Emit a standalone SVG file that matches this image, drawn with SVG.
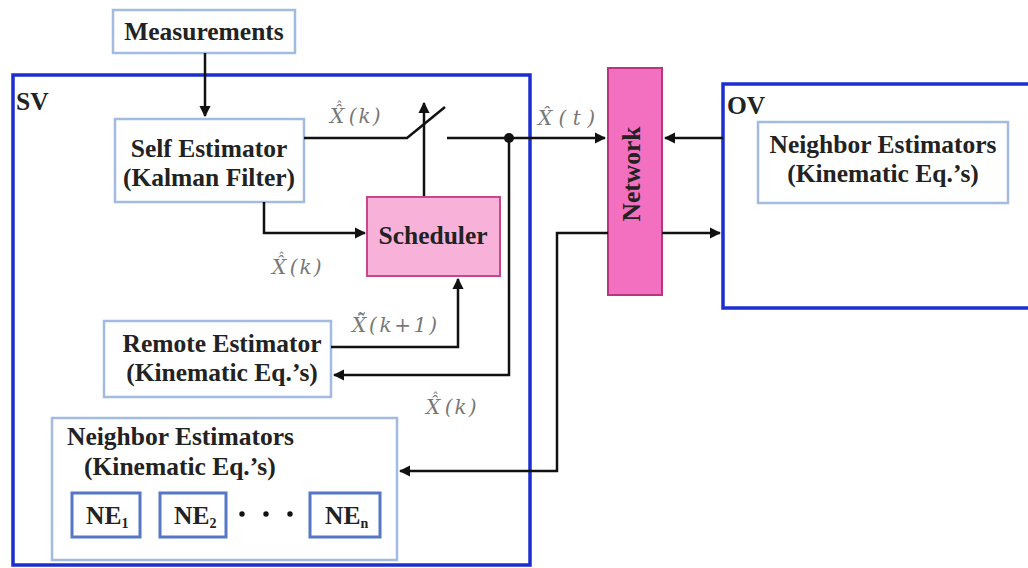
<svg xmlns="http://www.w3.org/2000/svg" width="1028" height="568" viewBox="0 0 1028 568">
<style>
.box{fill:#fff;stroke:#a3bbde;stroke-width:2.5}
.ne{fill:#fff;stroke:#5577c6;stroke-width:3}
.cont{fill:none;stroke:#1b2fd0;stroke-width:3.5}
.t{font-family:"Liberation Serif",serif;font-weight:bold;font-size:25.5px;fill:#222}
.m{font-family:"DejaVu Serif",serif;font-style:italic;font-size:20px;fill:#777}
.c{font-size:13px;font-style:normal}
.ln{fill:none;stroke:#111;stroke-width:2.5}
</style>
<defs>
<marker id="ar" viewBox="0 0 10 10" refX="9" refY="5" markerWidth="4.5" markerHeight="4.5" orient="auto" markerUnits="strokeWidth">
<path d="M0,0 L10,5 L0,10 z" fill="#111"/>
</marker>
</defs>
<rect width="1028" height="568" fill="#fff"/>

<g id="sv">
<rect class="cont" x="13" y="75" width="517" height="490"/>
<text class="t" x="16" y="110" font-size="27">SV</text>
</g>
<g id="ov">
<rect class="cont" x="723" y="84" width="320" height="224"/>
<text class="t" x="727" y="114" font-size="27">OV</text>
</g>

<g id="measurements">
<rect class="box" x="113" y="10" width="182" height="43"/>
<text class="t" x="204" y="40" text-anchor="middle">Measurements</text>
</g>
<g id="self-estimator">
<rect class="box" x="115" y="119" width="189" height="83"/>
<text class="t" x="209" y="157" text-anchor="middle">Self Estimator</text>
<text class="t" x="209" y="186" text-anchor="middle">(Kalman Filter)</text>
</g>
<g id="scheduler">
<rect x="367" y="197" width="133" height="79" style="fill:#f8b2da;stroke:#c8468e;stroke-width:2"/>
<text class="t" x="433" y="244" text-anchor="middle" font-size="27" fill="#4a1030">Scheduler</text>
</g>
<g id="remote-estimator">
<rect class="box" x="104" y="321" width="227" height="76"/>
<text class="t" x="222" y="352" text-anchor="middle">Remote Estimator</text>
<text class="t" x="222" y="381" text-anchor="middle">(Kinematic Eq.’s)</text>
</g>
<g id="neighbor-estimators-sv">
<rect class="box" x="52" y="418" width="345" height="142"/>
<text class="t" x="67" y="445">Neighbor Estimators</text>
<text class="t" x="84" y="475">(Kinematic Eq.’s)</text>
</g>
<g id="ne1">
<rect class="ne" x="72" y="493" width="68" height="44"/>
<text class="t" x="86" y="524" font-size="22">NE<tspan font-size="14" dy="4">1</tspan></text>
</g>
<g id="ne2">
<rect class="ne" x="160" y="493" width="66" height="44"/>
<text class="t" x="174" y="524" font-size="22">NE<tspan font-size="14" dy="4">2</tspan></text>
</g>
<g id="dots">
<circle cx="242" cy="514" r="2.7" fill="#111"/>
<circle cx="266" cy="514" r="2.7" fill="#111"/>
<circle cx="290" cy="514" r="2.7" fill="#111"/>
</g>
<g id="nen">
<rect class="ne" x="310" y="493" width="70" height="44"/>
<text class="t" x="325" y="524" font-size="22">NE<tspan font-size="14" dy="4">n</tspan></text>
</g>
<g id="network">
<rect x="608" y="68" width="54" height="227" style="fill:#f36fc0;stroke:#b8367f;stroke-width:2"/>
<text class="t" x="0" y="0" text-anchor="middle" font-size="27" fill="#4a0f35" transform="translate(640,174) rotate(-90)">Network</text>
</g>
<g id="neighbor-estimators-ov">
<rect class="box" x="758" y="122" width="250" height="81"/>
<text class="t" x="883" y="153" text-anchor="middle">Neighbor Estimators</text>
<text class="t" x="883" y="182" text-anchor="middle">(Kinematic Eq.’s)</text>
</g>

<g id="connectors">
<path class="ln" d="M205,53 V116" marker-end="url(#ar)"/>
<path class="ln" d="M304,138 H407 L445,107"/>
<path class="ln" d="M424,196 V103" marker-end="url(#ar)"/>
<path class="ln" d="M447,138 H605" marker-end="url(#ar)"/>
<circle cx="509" cy="138" r="5" fill="#111"/>
<path class="ln" d="M264,202 V233 H365" marker-end="url(#ar)"/>
<path class="ln" d="M331,347 H458 V279" marker-end="url(#ar)"/>
<path class="ln" d="M509,138 V375 H334" marker-end="url(#ar)"/>
<path class="ln" d="M723,138 H665" marker-end="url(#ar)"/>
<path class="ln" d="M662,233 H720" marker-end="url(#ar)"/>
<path class="ln" d="M608,233 H557 V471 H400" marker-end="url(#ar)"/>
</g>

<g id="labels">
<text class="m" x="330" y="123">X&#770;<tspan class="c" dx="-8" dy="-12">ˆ</tspan><tspan dx="6" dy="12" letter-spacing="2">(k)</tspan></text>
<text class="m" x="538" y="125" font-size="24" fill="#333" textLength="57" lengthAdjust="spacing">X&#770;(t)</text>
<text class="m" x="272" y="274">X&#770;<tspan class="c" dx="-8" dy="-12">ˆ</tspan><tspan dx="5" dy="12" letter-spacing="2">(k)</tspan></text>
<text class="m" x="352" y="332" textLength="85" lengthAdjust="spacing">X&#770;&#771;(k+1)</text>
<text class="m" x="426" y="414">X&#770;<tspan class="c" dx="-8" dy="-12">ˆ</tspan><tspan dx="6" dy="12" letter-spacing="2">(k)</tspan></text>
</g>
</svg>
